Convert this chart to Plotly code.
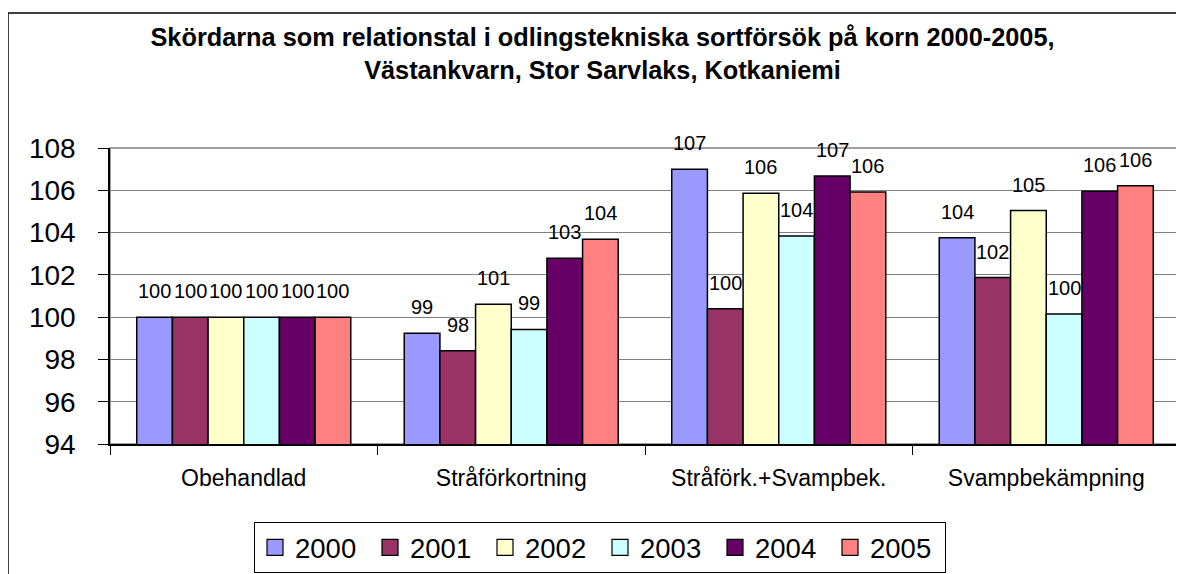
import plotly.graph_objects as go

categories = ["Obehandlad", "Stråförkortning", "Stråförk.+Svampbek.", "Svampbekämpning"]
years = ["2000", "2001", "2002", "2003", "2004", "2005"]
v2000 = [100, 99.24, 107.0, 103.76]
v2001 = [100, 98.41, 100.4, 101.87]
v2002 = [100, 100.61, 105.86, 105.04]
v2003 = [100, 99.42, 103.84, 100.15]
v2004 = [100, 102.78, 106.68, 105.95]
v2005 = [100, 103.68, 105.92, 106.22]
series = [v2000, v2001, v2002, v2003, v2004, v2005]
colors = ["#9999FF", "#993366", "#FFFFCC", "#CCFFFF", "#660066", "#FF8080"]
y_ticks = [94, 96, 98, 100, 102, 104, 106, 108]

FONT = "Liberation Sans, Arial, sans-serif"
BARGAP = 0.2

# page has an 8px body margin; figure sized to fit the window exactly
W, H = 1176, 566
L, R, T, B = 102, 4, 140, 130
PW, PH = W - L - R, H - T - B

fig = go.Figure()
for name, vals, col in zip(years, series, colors):
    fig.add_trace(go.Bar(
        x=categories, y=vals, name=name, showlegend=False,
        marker=dict(color=col, line=dict(color="black", width=1.5)),
        hoverinfo="skip",
    ))
# legend-only entries with square symbols
for name, col in zip(years, colors):
    fig.add_trace(go.Scatter(
        x=[None], y=[None], mode="markers", name=name,
        marker=dict(symbol="square", size=16, color=col,
                    line=dict(color="black", width=1.2)),
    ))

# data labels
n = len(series)
bw = (1 - BARGAP) / n
annotations = []
for j, vals in enumerate(series):
    for i, v in enumerate(vals):
        annotations.append(dict(
            x=i - (1 - BARGAP) / 2 + (j + 0.5) * bw, y=v, xref="x", yref="y",
            text=f"{round(v):.0f}", showarrow=False, yanchor="middle", yshift=26,
            font=dict(family=FONT, size=20, color="black"),
        ))

fig.update_layout(
    width=W, height=H,
    margin=dict(l=L, r=R, t=T, b=B, autoexpand=False),
    paper_bgcolor="white", plot_bgcolor="white",
    barmode="group", bargap=BARGAP, bargroupgap=0,
    font=dict(family=FONT, color="black"),
    title=dict(
        text="Skördarna som relationstal i odlingstekniska sortförsök på korn 2000-2005,<br>Västankvarn, Stor Sarvlaks, Kotkaniemi",
        x=594.5 / W, xanchor="center", y=1 - 38 / H, yanchor="middle",
        font=dict(family=FONT, size=25.3, color="black", weight="bold"),
    ),
    xaxis=dict(
        type="category", showline=True, linecolor="black", linewidth=1.5,
        ticks="outside", tickson="boundaries", ticklen=9, tickcolor="black",
        tickfont=dict(family=FONT, size=23, color="black"),
        ticklabelstandoff=13, showgrid=False, automargin=False,
    ),
    yaxis=dict(
        range=[94, 108], tickvals=y_ticks, showline=True, linecolor="black", linewidth=1.5,
        ticks="outside", ticklen=10, tickcolor="black",
        tickfont=dict(family=FONT, size=28, color="black"),
        ticklabelstandoff=17, automargin=False,
        showgrid=True, gridcolor="#808080", gridwidth=1, zeroline=False,
    ),
    legend=dict(
        orientation="h", x=(592 - L) / PW, xanchor="center", y=(T + PH - 514) / PH, yanchor="top",
        font=dict(family=FONT, size=27.5, color="black"),
        bordercolor="black", borderwidth=1, bgcolor="white",
        entrywidth=70, entrywidthmode="pixels",
        itemclick=False, itemdoubleclick=False,
    ),
    annotations=annotations,
    shapes=[
        dict(type="rect", xref="paper", yref="paper", x0=0, x1=1, y0=0, y1=1,
             line=dict(color="#808080", width=1.5), layer="below"),
        dict(type="rect", xref="paper", yref="paper",
             x0=(0 - L) / PW, x1=(W + 20 - L) / PW,
             y0=(T + PH - (H + 20)) / PH, y1=(T + PH - 5) / PH,
             line=dict(color="black", width=1.5), layer="below"),
    ],
)

fig.write_html("out.html")
